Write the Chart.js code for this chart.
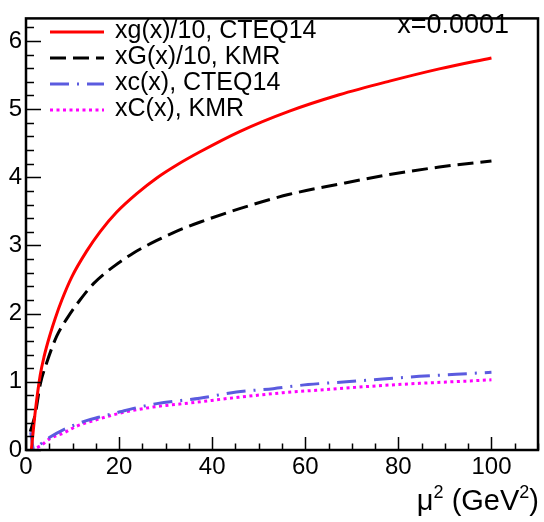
<!DOCTYPE html>
<html>
<head>
<meta charset="utf-8">
<script src="https://cdn.jsdelivr.net/npm/chart.js@4"></script>
<style>
  html, body { margin: 0; padding: 0; background: #fff; }
  #wrap { width: 544px; height: 522px; }
</style>
</head>
<body>
<div id="wrap"><canvas id="pdf"></canvas></div>
<script>
// values, mu^2 in GeV^2
const muG = [1.15, 2.0, 3.06, 3.92, 5.2, 6.27, 7.7, 9.85, 13.07, 15.9, 19.5, 23.8, 28.1, 32.4, 37.3, 45.9, 56.6, 67.3, 78.1, 88.8, 100];
const gCteq = [0.0, 0.57, 1.10, 1.38, 1.70, 1.93, 2.20, 2.54, 2.92, 3.20, 3.49, 3.76, 3.99, 4.18, 4.37, 4.67, 4.97, 5.21, 5.41, 5.59, 5.75];

const muGk = [0.92, 2.0, 3.06, 4.5, 6.6, 9.1, 11.6, 14.5, 18.8, 23.1, 28.0, 32.4, 37.3, 45.9, 56.6, 67.3, 78.1, 88.8, 100];
const gKmr = [0.27, 0.53, 0.96, 1.29, 1.67, 1.96, 2.20, 2.44, 2.69, 2.89, 3.07, 3.21, 3.34, 3.54, 3.75, 3.90, 4.04, 4.15, 4.24];

const muC = [1.0, 1.7, 3.0, 5.2, 8.1, 13.0, 15.6, 20.2, 23.1, 28.1, 37.3, 45.2, 53.1, 60.6, 68.8, 76.6, 84.5, 92.4, 100];
const cCteq = [0.26, 0.0, 0.08, 0.19, 0.30, 0.43, 0.48, 0.56, 0.61, 0.68, 0.76, 0.85, 0.90, 0.96, 1.00, 1.04, 1.08, 1.11, 1.14];

const muCk = [1.1, 3.06, 5.2, 8.1, 10.9, 14.5, 20.2, 27.3, 35.2, 45.2, 55.2, 65.2, 75.2, 85.2, 94.5, 100];
const cKmr = [0.0, 0.06, 0.17, 0.25, 0.35, 0.43, 0.54, 0.63, 0.69, 0.77, 0.84, 0.89, 0.94, 0.98, 1.01, 1.03];

const labels = ['xg(x)/10, CTEQ14', 'xG(x)/10, KMR', 'xc(x), CTEQ14', 'xC(x), KMR'];
const xTicks = [0, 20, 40, 60, 80, 100];
const yTicks = [0, 1, 2, 3, 4, 5, 6];

const FONT = '"Liberation Sans", Arial, Helvetica, sans-serif';
Chart.defaults.font.family = FONT;
Chart.defaults.color = '#000';

function pts(xs, ys) {
    return xs.map((x, i) => ({ x: x, y: ys[i] }));
}

// ROOT-like frame, inward ticks, legend and labels
const rootFrame = {
    id: 'rootFrame',
    afterDraw(chart) {
        const ctx = chart.ctx;
        const a = chart.chartArea;
        const xs = chart.scales.x;
        const ys = chart.scales.y;
        ctx.save();
        ctx.strokeStyle = '#000';
        ctx.lineWidth = 1.5;
        ctx.setLineDash([]);
        ctx.beginPath();
        for (let v = 0; v <= 110; v += 5) {
            const px = Math.round(xs.getPixelForValue(v)) + 0.5;
            const len = v % 20 === 0 ? 13 : 6.5;
            ctx.moveTo(px, a.bottom);
            ctx.lineTo(px, a.bottom - len);
        }
        for (let i = 0; i <= 31; i++) {
            const py = Math.round(ys.getPixelForValue(i * 0.2)) + 0.5;
            const len = i % 5 === 0 ? 15 : 8;
            ctx.moveTo(a.left, py);
            ctx.lineTo(a.left + len, py);
        }
        ctx.stroke();

        ctx.lineWidth = 2.5;
        ctx.strokeRect(a.left, a.top, a.right - a.left, a.bottom - a.top);

        // legend
        ctx.font = '25px ' + FONT;
        ctx.textBaseline = 'middle';
        ctx.textAlign = 'left';
        chart.data.datasets.forEach((ds, i) => {
            const y = 32 + i * 26;
            ctx.strokeStyle = ds.borderColor;
            ctx.lineWidth = ds.borderWidth;
            ctx.setLineDash(ds.borderDash || []);
            ctx.beginPath();
            ctx.moveTo(50, y);
            ctx.lineTo(104, y);
            ctx.stroke();
            ctx.setLineDash([]);
            ctx.fillStyle = '#000';
            ctx.fillText(ds.label, 115, y - 1);
        });
        ctx.font = '27px ' + FONT;
        ctx.textAlign = 'right';
        ctx.fillText('x=0.0001', 509, 26);

        // axis title with superscripts
        ctx.textBaseline = 'alphabetic';
        ctx.textAlign = 'left';
        const big = '29px ' + FONT, small = '18px ' + FONT;
        const parts = [['μ', big, 0], ['2', small, -12], [' (GeV', big, 0], ['2', small, -12], [')', big, 0]];
        let w = 0;
        parts.forEach(p => { ctx.font = p[1]; w += ctx.measureText(p[0]).width; });
        let x = 539 - w;
        parts.forEach(p => {
            ctx.font = p[1];
            ctx.fillText(p[0], x, 510 + p[2]);
            x += ctx.measureText(p[0]).width;
        });
        ctx.restore();
    }
};

new Chart(document.getElementById('pdf'), {
    type: 'line',
    data: {
        datasets: [
            { label: labels[0], data: pts(muG, gCteq), borderColor: '#ff0000', borderWidth: 3 },
            { label: labels[1], data: pts(muGk, gKmr), borderColor: '#000000', borderWidth: 3, borderDash: [16, 7] },
            { label: labels[2], data: pts(muC, cCteq), borderColor: '#5b5bdf', borderWidth: 3, borderDash: [19, 8, 2, 8] },
            { label: labels[3], data: pts(muCk, cKmr), borderColor: '#ff00ff', borderWidth: 3, borderDash: [3, 3.5] }
        ]
    },
    options: {
        responsive: true,
        maintainAspectRatio: false,
        animation: false,
        events: [],
        layout: { padding: { top: 9, right: 6, left: 0, bottom: 0 } },
        elements: {
            point: { radius: 0 },
            line: { cubicInterpolationMode: 'monotone', fill: false }
        },
        plugins: {
            legend: { display: false },
            tooltip: { enabled: false }
        },
        scales: {
            x: {
                type: 'linear',
                min: 0,
                max: 110,
                grid: { display: false, drawTicks: false },
                border: { display: false },
                ticks: { padding: 3, maxRotation: 0, autoSkip: false, font: { size: 24 } },
                afterBuildTicks: s => { s.ticks = xTicks.map(v => ({ value: v })); },
                afterFit: s => { s.height = 72; }
            },
            y: {
                type: 'linear',
                min: 0,
                max: 6.33,
                grid: { display: false, drawTicks: false },
                border: { display: false },
                ticks: { padding: 4, autoSkip: false, font: { size: 24 } },
                afterBuildTicks: s => { s.ticks = yTicks.map(v => ({ value: v })); },
                afterFit: s => { s.width = 26; }
            }
        }
    },
    plugins: [rootFrame]
});
</script>
</body>
</html>
